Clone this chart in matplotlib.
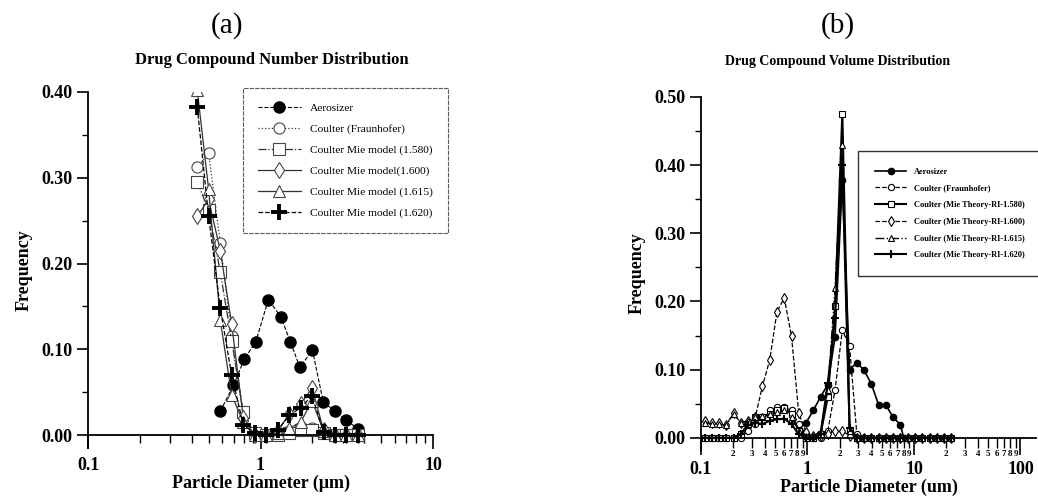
import numpy as np
import matplotlib
matplotlib.use("Agg")
import matplotlib.pyplot as plt
from matplotlib.ticker import FixedLocator, FuncFormatter, MultipleLocator, NullFormatter

plt.rcParams["font.family"] = ["Liberation Serif", "DejaVu Serif"]
plt.rcParams["font.weight"] = "bold"

# ---------------------------------------------------------------------------
# (a) number distribution
# ---------------------------------------------------------------------------
labels_a = ["Aerosizer", "Coulter (Fraunhofer)", "Coulter Mie model (1.580)",
            "Coulter Mie model(1.600)", "Coulter Mie model (1.615)",
            "Coulter Mie model (1.620)"]

d_aero_a = [0.585, 0.697, 0.807, 0.94, 1.11, 1.31, 1.49, 1.69, 2.0, 2.31, 2.69, 3.13, 3.68]
f_aero_a = [0.028, 0.058, 0.089, 0.109, 0.158, 0.138, 0.109, 0.079, 0.099, 0.039, 0.028, 0.018, 0.007]

d_coul_a = [0.43, 0.50, 0.585, 0.68, 0.795, 0.925, 1.08, 1.26, 1.47, 1.71, 1.99, 2.32, 2.70, 3.15, 3.67]
f_fraun_a = [0.312, 0.329, 0.224, 0.116, 0.022, 0.0, 0.0, 0.002, 0.005, 0.010, 0.008, 0.003, 0.0, 0.0, 0.0]
f_1580_a = [0.295, 0.262, 0.190, 0.110, 0.027, 0.002, 0.0, 0.0, 0.003, 0.006, 0.006, 0.002, 0.0, 0.0, 0.0]
f_1600_a = [0.255, 0.275, 0.215, 0.130, 0.020, 0.0, 0.0, 0.005, 0.025, 0.036, 0.055, 0.006, 0.0, 0.0, 0.0]
f_1615_a = [0.402, 0.287, 0.134, 0.047, 0.015, 0.0, 0.0, 0.002, 0.008, 0.015, 0.040, 0.005, 0.0, 0.0, 0.0]
f_1620_a = [0.382, 0.256, 0.148, 0.070, 0.012, 0.002, 0.0, 0.006, 0.023, 0.032, 0.046, 0.004, 0.0, 0.0, 0.0]

# ---------------------------------------------------------------------------
# (b) volume distribution
# ---------------------------------------------------------------------------
labels_b = ["Aerosizer", "Coulter (Fraunhofer)", "Coulter (Mie Theory-RI-1.580)",
            "Coulter (Mie Theory-RI-1.600)", "Coulter (Mie Theory-RI-1.615)",
            "Coulter (Mie Theory-RI-1.620)"]

d_aero_b = [0.828, 0.969, 1.134, 1.326, 1.552, 1.816, 2.124, 2.486, 2.908, 3.40, 3.98,
            4.66, 5.45, 6.38, 7.46, 8.0]
f_aero_b = [0.012, 0.022, 0.040, 0.060, 0.078, 0.148, 0.378, 0.100, 0.110, 0.099, 0.079,
            0.048, 0.048, 0.030, 0.019, 0.0]

d_coul_b = [0.108, 0.126, 0.147, 0.172, 0.202, 0.236, 0.276, 0.323, 0.378, 0.442, 0.517,
            0.605, 0.708, 0.828, 0.969, 1.134, 1.326, 1.552, 1.816, 2.124, 2.486, 2.908,
            3.40, 3.98, 4.66, 5.45, 6.38, 7.46, 8.73, 10.2, 11.9, 14.0, 16.4, 19.1, 22.4]
f_fraun_b = [0.0, 0.0, 0.0, 0.0, 0.0, 0.0, 0.010, 0.020, 0.030, 0.040, 0.045,
             0.045, 0.040, 0.020, 0.005, 0.0, 0.0, 0.010, 0.070, 0.158, 0.134, 0.005,
             0.0, 0.0, 0.0, 0.0, 0.0, 0.0, 0.0, 0.0, 0.0, 0.0, 0.0, 0.0, 0.0]
f_1580_b = [0.0, 0.0, 0.0, 0.0, 0.0, 0.005, 0.020, 0.030, 0.030, 0.035, 0.040,
            0.043, 0.035, 0.010, 0.0, 0.0, 0.005, 0.060, 0.193, 0.475, 0.012, 0.0,
            0.0, 0.0, 0.0, 0.0, 0.0, 0.0, 0.0, 0.0, 0.0, 0.0, 0.0, 0.0, 0.0]
f_1600_b = [0.024, 0.022, 0.021, 0.019, 0.036, 0.022, 0.025, 0.030, 0.076, 0.114, 0.185,
            0.205, 0.149, 0.036, 0.008, 0.002, 0.002, 0.005, 0.010, 0.010, 0.003, 0.0,
            0.0, 0.0, 0.0, 0.0, 0.0, 0.0, 0.0, 0.0, 0.0, 0.0, 0.0, 0.0, 0.0]
f_1615_b = [0.022, 0.020, 0.020, 0.018, 0.035, 0.022, 0.025, 0.030, 0.032, 0.035, 0.038,
            0.040, 0.030, 0.010, 0.003, 0.002, 0.010, 0.070, 0.220, 0.430, 0.010, 0.0,
            0.0, 0.0, 0.0, 0.0, 0.0, 0.0, 0.0, 0.0, 0.0, 0.0, 0.0, 0.0, 0.0]
f_1620_b = [0.0, 0.0, 0.0, 0.0, 0.0, 0.005, 0.018, 0.022, 0.020, 0.025, 0.027,
            0.028, 0.020, 0.005, 0.0, 0.0, 0.005, 0.080, 0.175, 0.400, 0.015, 0.0,
            0.0, 0.0, 0.0, 0.0, 0.0, 0.0, 0.0, 0.0, 0.0, 0.0, 0.0, 0.0, 0.0]

W, H = 1038, 497
fig = plt.figure(figsize=(W / 100, H / 100), dpi=100)


def px_box(left, right, top, bottom):
    return [left / W, 1 - bottom / H, (right - left) / W, (bottom - top) / H]


def style_axes(ax, ymax, ybottom):
    ax.set_xscale("log")
    ax.set_ylim(ybottom, ymax)
    for side in ("top", "right"):
        ax.spines[side].set_visible(False)
    ax.spines["bottom"].set_position(("data", 0))
    ax.spines["left"].set_linewidth(1.3)
    ax.spines["bottom"].set_linewidth(1.3)
    ax.yaxis.set_major_locator(MultipleLocator(0.1))
    ax.yaxis.set_minor_locator(MultipleLocator(0.05))
    ax.yaxis.set_major_formatter(FuncFormatter(lambda v, p: f"{v:.2f}"))
    ax.tick_params(axis="y", which="major", direction="out", length=8, width=1.2,
                   labelsize=13)
    ax.tick_params(axis="y", which="minor", direction="out", length=4, width=1.0)
    ax.set_ylabel("Frequency", fontsize=13, fontweight="bold", labelpad=6)


# ---------------- panel (a) ----------------
ax1 = fig.add_axes(px_box(88, 433, 92, 448))
style_axes(ax1, 0.40, -0.015)
ax1.set_xlim(0.1, 10)

ax1.plot(d_aero_a, f_aero_a, ls="--", lw=0.8, color="black", marker="o", ms=8,
         mfc="black", mec="black", label=labels_a[0])
ax1.plot(d_coul_a, f_fraun_a, ls=":", lw=0.9, color="#333333", marker="o", ms=8,
         mfc="white", mec="#444444", mew=0.8, label=labels_a[1])
ax1.plot(d_coul_a, f_1580_a, ls="-.", lw=0.9, color="#333333", marker="s", ms=8,
         mfc="white", mec="#444444", mew=0.8, label=labels_a[2])
ax1.plot(d_coul_a, f_1600_a, ls="-", lw=0.9, color="#333333", marker="d", ms=8,
         mfc="white", mec="#444444", mew=0.8, label=labels_a[3])
ax1.plot(d_coul_a, f_1615_a, ls="-", lw=0.9, color="#333333", marker="^", ms=8,
         mfc="white", mec="#444444", mew=0.8, label=labels_a[4])
ax1.plot(d_coul_a, f_1620_a, ls="--", lw=0.9, color="black", marker="+", ms=11,
         mew=2.8, mec="black", label=labels_a[5])

ax1.xaxis.set_major_locator(FixedLocator([0.1, 1, 10]))
ax1.xaxis.set_major_formatter(FuncFormatter(lambda v, p: f"{v:g}"))
ax1.xaxis.set_minor_locator(FixedLocator([k * 10.0 ** e for e in (-1, 0) for k in range(2, 10)]))
ax1.xaxis.set_minor_formatter(NullFormatter())
ax1.tick_params(axis="x", which="major", direction="out", length=10, width=1.2,
                labelsize=13, pad=6)
ax1.tick_params(axis="x", which="minor", direction="out", length=6, width=1.0)
ax1.set_xlabel("Particle Diameter (\u03bcm)", fontsize=13, fontweight="bold", labelpad=0)

leg1 = ax1.legend(loc="upper left", bbox_to_anchor=(243 / W, 1 - 88 / H),
                  bbox_transform=fig.transFigure, frameon=True,
                  fancybox=False, edgecolor="#333333", handlelength=3.8,
                  labelspacing=0.95, borderpad=1.3, handletextpad=0.8, borderaxespad=0,
                  prop={"family": "Liberation Serif", "weight": "normal", "size": 8.2})
leg1.get_frame().set_linewidth(0.8)
leg1.get_frame().set_linestyle((0, (4, 1)))

# ---------------- panel (b) ----------------
ax2 = fig.add_axes(px_box(701, 1036, 97, 450))
style_axes(ax2, 0.50, -0.018)
ax2.set_xlim(0.1, 140)

ax2.plot(d_aero_b, f_aero_b, ls="-", lw=1.2, color="black", marker="o", ms=4.5,
         mfc="black", mec="black", label=labels_b[0])
ax2.plot(d_coul_b, f_fraun_b, ls="--", lw=0.9, color="black", marker="o", ms=4.5,
         mfc="white", mec="black", mew=0.8, label=labels_b[1])
ax2.plot(d_coul_b, f_1580_b, ls="-", lw=1.5, color="black", marker="s", ms=4.5,
         mfc="white", mec="black", mew=0.8, label=labels_b[2])
ax2.plot(d_coul_b, f_1600_b, ls="--", lw=0.9, color="black", marker="d", ms=5,
         mfc="white", mec="black", mew=0.8, label=labels_b[3])
ax2.plot(d_coul_b, f_1615_b, ls="-.", lw=1.0, color="black", marker="^", ms=4.5,
         mfc="white", mec="black", mew=0.8, label=labels_b[4])
ax2.plot(d_coul_b, f_1620_b, ls="-", lw=1.5, color="black", marker="+", ms=6,
         mew=1.5, mec="black", label=labels_b[5])

ax2.xaxis.set_major_locator(FixedLocator([0.1, 1, 10, 100]))
ax2.xaxis.set_major_formatter(FuncFormatter(lambda v, p: f"{v:g}"))
ax2.xaxis.set_minor_locator(FixedLocator([k * 10.0 ** e for e in (-1, 0, 1) for k in range(2, 10)]))
ax2.xaxis.set_minor_formatter(FuncFormatter(lambda v, p: f"{int(round(v / 10 ** np.floor(np.log10(v) + 1e-9)))}"))
ax2.tick_params(axis="x", which="major", direction="out", length=12, width=1.2,
                labelsize=13, pad=5)
ax2.tick_params(axis="x", which="minor", direction="out", length=7, width=1.0,
                labelsize=6.5, pad=2)
ax2.set_xlabel("Particle Diameter (um)", fontsize=13, fontweight="bold", labelpad=0)

leg2 = ax2.legend(loc="upper left", bbox_to_anchor=(858 / W, 1 - 151 / H),
                  bbox_transform=fig.transFigure, frameon=True, fancybox=False,
                  edgecolor="black", handlelength=3.8, labelspacing=1.05,
                  borderpad=2.0, handletextpad=0.9, borderaxespad=0,
                  prop={"family": "Liberation Serif", "weight": "bold", "size": 6})
leg2.get_frame().set_linewidth(1.0)

# ---------------- titles ----------------
fig.text(227 / W, 1 - 26 / H, "(a)", ha="center", va="center", fontsize=21,
         fontweight="normal")
fig.text(272 / W, 1 - 60 / H, "Drug Compound Number Distribution", ha="center",
         va="center", fontsize=12, fontweight="bold")
fig.text(838 / W, 1 - 26 / H, "(b)", ha="center", va="center", fontsize=21,
         fontweight="normal")
fig.text(838 / W, 1 - 62 / H, "Drug Compound Volume Distribution", ha="center",
         va="center", fontsize=10, fontweight="bold")

fig.savefig("out.png", dpi=100)
